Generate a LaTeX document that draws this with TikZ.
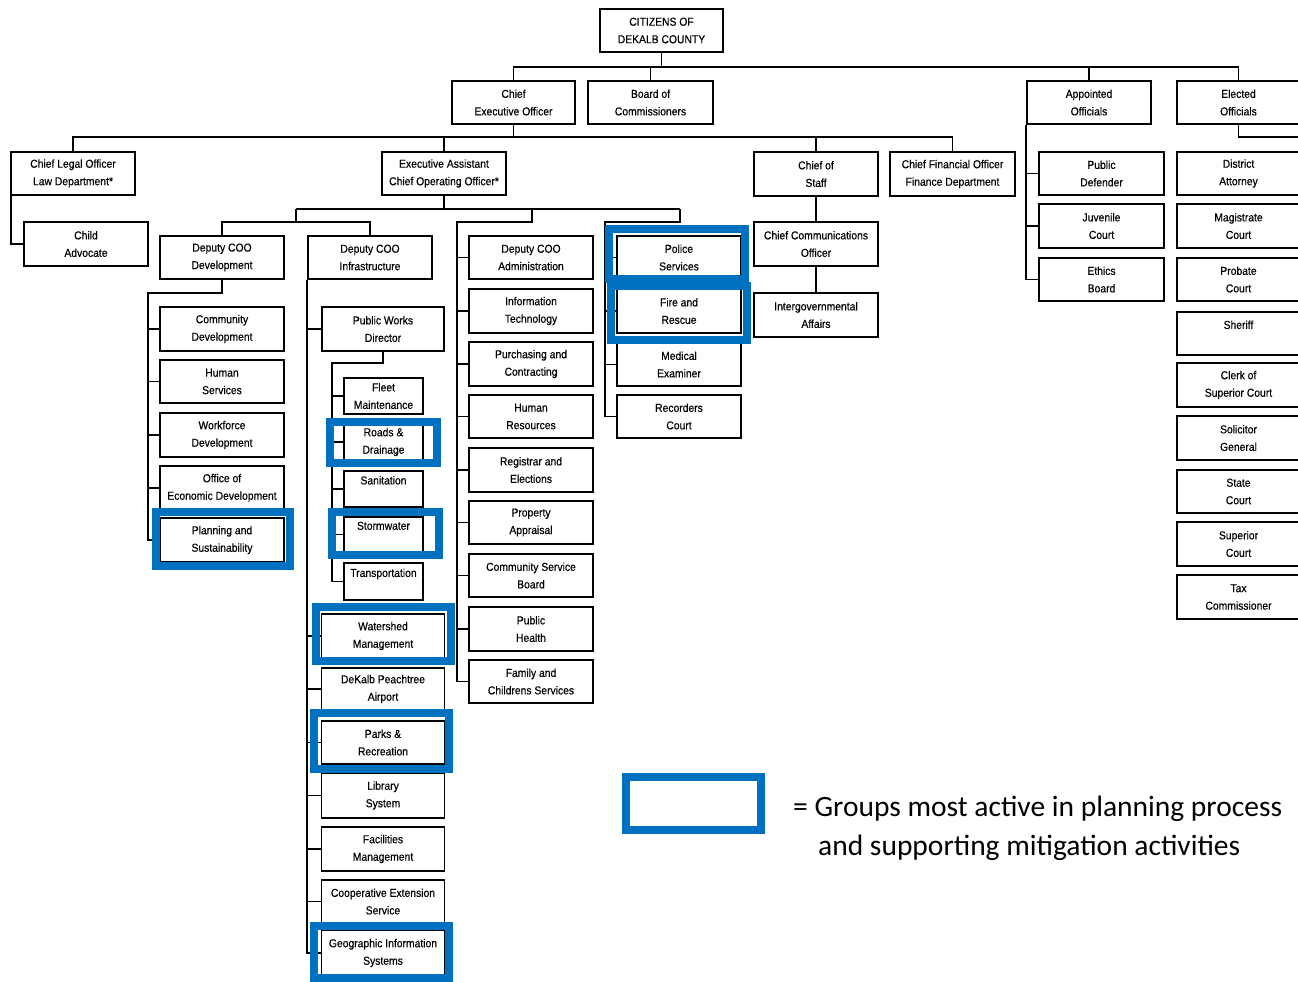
\documentclass[tikz,border=0pt]{standalone}
\usepackage{fontspec}
\newfontfamily\boxfont[FakeStretch=0.9,FakeBold=0.4]{Liberation Sans}
\newfontfamily\legfont{Carlito}
\definecolor{hlblue}{HTML}{0070C0}
\begin{document}
\begin{tikzpicture}[x=1pt,y=-1pt,
  box/.style={draw, line width=1.6pt, fill=white, minimum width=124pt, minimum height=43pt,
    inner sep=0pt, align=center, font=\boxfont\fontsize{11.5}{17.5}\selectfont},
  sub/.style={box, minimum width=79pt, minimum height=36pt},
  conn/.style={line width=1.5pt},
  hl/.style={draw=hlblue, line width=8pt},
  legtext/.style={anchor=base west, inner sep=0pt, font=\legfont\fontsize{29.5}{35}\selectfont}]
\useasboundingbox (0,0) rectangle (1298,982);
\clip (0,0) rectangle (1298,982);

% top levels
\node[box, minimum width=123pt] (cit) at (661.5,30.5) {CITIZENS OF\\DEKALB COUNTY};
\node[box, minimum width=123pt] (ceo) at (513.5,102.5) {Chief\\Executive Officer};
\node[box, minimum width=125pt] (boc) at (650.5,102.5) {Board of\\Commissioners};
\node[box] (app) at (1089,102.5) {Appointed\\Officials};
\node[box, minimum width=123pt] (ele) at (1238.5,102.5) {Elected\\Officials};

\node[box] (clo) at (73,173.5) {Chief Legal Officer\\Law Department*};
\node[box] (eac) at (444,173.5) {Executive Assistant\\Chief Operating Officer*};
\node[box, minimum height=44pt] (cos) at (816,174) {Chief of\\Staff};
\node[box, minimum width=125pt, minimum height=44pt] (cfo) at (952.5,174) {Chief Financial Officer\\Finance Department};

% appointed
\node[box, minimum width=125pt] (pd) at (1101.5,173.5) {Public\\Defender};
\node[box, minimum width=125pt, minimum height=44pt] (jc) at (1101.5,226) {Juvenile\\Court};
\node[box, minimum width=125pt] (eb) at (1101.5,279.5) {Ethics\\Board};

% elected
\node[box, minimum width=123pt] (da) at (1238.5,173.5) {District\\Attorney};
\node[box, minimum width=123pt, minimum height=44pt] (mc) at (1238.5,226) {Magistrate\\Court};
\node[box, minimum width=123pt] (pc) at (1238.5,279.5) {Probate\\Court};
\node[box, minimum width=123pt] (sh) at (1238.5,333.5) {Sheriff\\\mbox{}};
\node[box, minimum width=123pt, minimum height=44pt] (csc) at (1238.5,385) {Clerk of\\Superior Court};
\node[box, minimum width=123pt, minimum height=44pt] (sg) at (1238.5,438) {Solicitor\\General};
\node[box, minimum width=123pt] (sc) at (1238.5,491.5) {State\\Court};
\node[box, minimum width=123pt, minimum height=44pt] (spc) at (1238.5,544) {Superior\\Court};
\node[box, minimum width=123pt, minimum height=44pt] (tc) at (1238.5,597) {Tax\\Commissioner};

% legal
\node[box, minimum height=44pt] (ca) at (86,244) {Child\\Advocate};

% deputies
\node[box] (dev) at (222,257.5) {Deputy COO\\Development};
\node[box] (inf) at (370,257.5) {Deputy COO\\Infrastructure};
\node[box] (adm) at (531,257.5) {Deputy COO\\Administration};
\node[box] (pol) at (679,257.5) {Police\\Services};

% chief of staff
\node[box, minimum height=44pt] (ccom) at (816,244) {Chief Communications\\Officer};
\node[box, minimum height=44pt] (iga) at (816,315) {Intergovernmental\\Affairs};

% police column
\node[box, minimum height=44pt] (fr) at (679,311) {Fire and\\Rescue};
\node[box] (me) at (679,364.5) {Medical\\Examiner};
\node[box] (rc) at (679,416.5) {Recorders\\Court};

% administration column
\node[box, minimum height=44pt] (it) at (531,311) {Information\\Technology};
\node[box, minimum height=44pt] (pur) at (531,364) {Purchasing and\\Contracting};
\node[box] (hr) at (531,416.5) {Human\\Resources};
\node[box, minimum height=44pt] (reg) at (531,470) {Registrar and\\Elections};
\node[box] (pa) at (531,522.5) {Property\\Appraisal};
\node[box] (csb) at (531,575.5) {Community Service\\Board};
\node[box, minimum height=44pt] (ph) at (531,629) {Public\\Health};
\node[box] (fam) at (531,681.5) {Family and\\Childrens Services};

% development column
\node[box, minimum height=44pt] (cd) at (222,329) {Community\\Development};
\node[box] (hs) at (222,381.5) {Human\\Services};
\node[box, minimum height=44pt] (wd) at (222,435) {Workforce\\Development};
\node[box, minimum height=44pt] (oed) at (222,488) {Office of\\Economic Development};
\node[box, minimum height=44pt] (ps) at (222,540) {Planning and\\Sustainability};

% infrastructure column
\node[box, minimum width=122pt, minimum height=44pt] (pw) at (383,329) {Public Works\\Director};
\node[sub] (fm) at (383.5,396) {Fleet\\Maintenance};
\node[sub] (rd) at (383.5,442) {Roads \&\\Drainage};
\node[sub] (san) at (383.5,489) {Sanitation\\\mbox{}};
\node[sub, minimum height=35pt] (sw) at (383.5,534.5) {Stormwater\\\mbox{}};
\node[sub, minimum height=37pt] (tr) at (383.5,581.5) {Transportation\\\mbox{}};
\node[box, minimum width=123pt, minimum height=44pt] (ws) at (383,636) {Watershed\\Management};
\node[box, minimum width=123pt, minimum height=42pt] (air) at (383,689) {DeKalb Peachtree\\Airport};
\node[box, minimum width=123pt] (pr) at (383,742.5) {Parks \&\\Recreation};
\node[box, minimum width=123pt, minimum height=45pt] (lib) at (383,795.5) {Library\\System};
\node[box, minimum width=123pt, minimum height=44pt] (fac) at (383,849) {Facilities\\Management};
\node[box, minimum width=123pt] (coop) at (383,901.5) {Cooperative Extension\\Service};
\node[box, minimum width=123pt, minimum height=46pt] (gis) at (383,953) {Geographic Information\\Systems};

% ---------- connectors ----------
\coordinate (b1) at (0,67);
\draw[conn] (cit.south) -- (cit.south |- b1);
\draw[conn] (ceo.north) -- (ceo.north |- b1) -- (ele.north |- b1) -- (ele.north);
\draw[conn] (boc.north) -- (boc.north |- b1);
\draw[conn] (app.north) -- (app.north |- b1);

\coordinate (b2) at (0,137);
\draw[conn] (ceo.south) -- (ceo.south |- b2);
\draw[conn] (clo.north) -- (clo.north |- b2) -- (cfo.north |- b2) -- (cfo.north);
\draw[conn] (eac.north) -- (eac.north |- b2);
\draw[conn] (cos.north) -- (cos.north |- b2);

\draw[conn] ([xshift=1pt]clo.south west) |- (ca.west);

\coordinate (b3) at (0,209);
\coordinate (j1) at (296,209);
\coordinate (j2) at (532,209);
\coordinate (j3) at (680,209);
\coordinate (b4) at (0,222);
\draw[conn] (eac.south) -- (eac.south |- b3);
\draw[conn] (j1) -- (j3);
\draw[conn] (j1) -- (j1 |- b4);
\draw[conn] (dev.north) -- (dev.north |- b4) -- (inf.north |- b4) -- (inf.north);

\coordinate (va) at (457,0);
\coordinate (vp) at (605,0);
\draw[conn] (j2) -- (j2 |- b4) -- (va |- b4) -- (va |- fam.west) -- (fam.west);
\foreach \n in {adm,it,pur,hr,reg,pa,csb,ph}
  \draw[conn] (va |- \n.west) -- (\n.west);
\draw[conn] (j3) -- (j3 |- b4) -- (vp |- b4) -- (vp |- rc.west) -- (rc.west);
\foreach \n in {pol,fr,me}
  \draw[conn] (vp |- \n.west) -- (\n.west);

\coordinate (vd) at (148,293);
\draw[conn] (dev.south) -- (dev.south |- vd) -- (vd) -- (vd |- ps.west) -- (ps.west);
\foreach \n in {cd,hs,wd,oed}
  \draw[conn] (vd |- \n.west) -- (\n.west);

\draw[conn] (inf.south west) -- (inf.south west |- gis.west) -- (gis.west);
\foreach \n in {pw,ws,air,pr,lib,fac,coop}
  \draw[conn] (inf.south west |- \n.west) -- (\n.west);

\coordinate (vw) at (332,363);
\draw[conn] (pw.south) -- (pw.south |- vw) -- (vw) -- (vw |- tr.west) -- (tr.west);
\foreach \n in {fm,rd,san,sw}
  \draw[conn] (vw |- \n.west) -- (\n.west);

\draw[conn] (cos.south) -- (ccom.north);
\draw[conn] (ccom.south) -- (iga.north);

\draw[conn] (app.south west) -- (app.south west |- eb.west) -- (eb.west);
\foreach \n in {pd,jc}
  \draw[conn] (app.south west |- \n.west) -- (\n.west);

\coordinate (ve) at (1300,137);
\draw[conn] (ele.south) -- (ele.south |- ve) -- (ve);

% ---------- highlights ----------
\draw[hl] (156,512) rectangle (290,566);
\draw[hl] (330,422) rectangle (437,463);
\draw[hl] (332,512) rectangle (439,555);
\draw[hl] (609,229) rectangle (745,279);
\draw[hl] (611,286) rectangle (747,340);
\draw[hl] (316,607) rectangle (451,661);
\draw[hl] (314,713) rectangle (449,769);
\draw[hl] (314,926) rectangle (449,978);

% ---------- legend ----------
\draw[hl] (626,777) rectangle (761,830);
\node[legtext] (lg1) at (793,816) {= Groups most active in planning process};
\node[legtext] (lg2) at (818,855) {and supporting mitigation activities};
\end{tikzpicture}
\end{document}
